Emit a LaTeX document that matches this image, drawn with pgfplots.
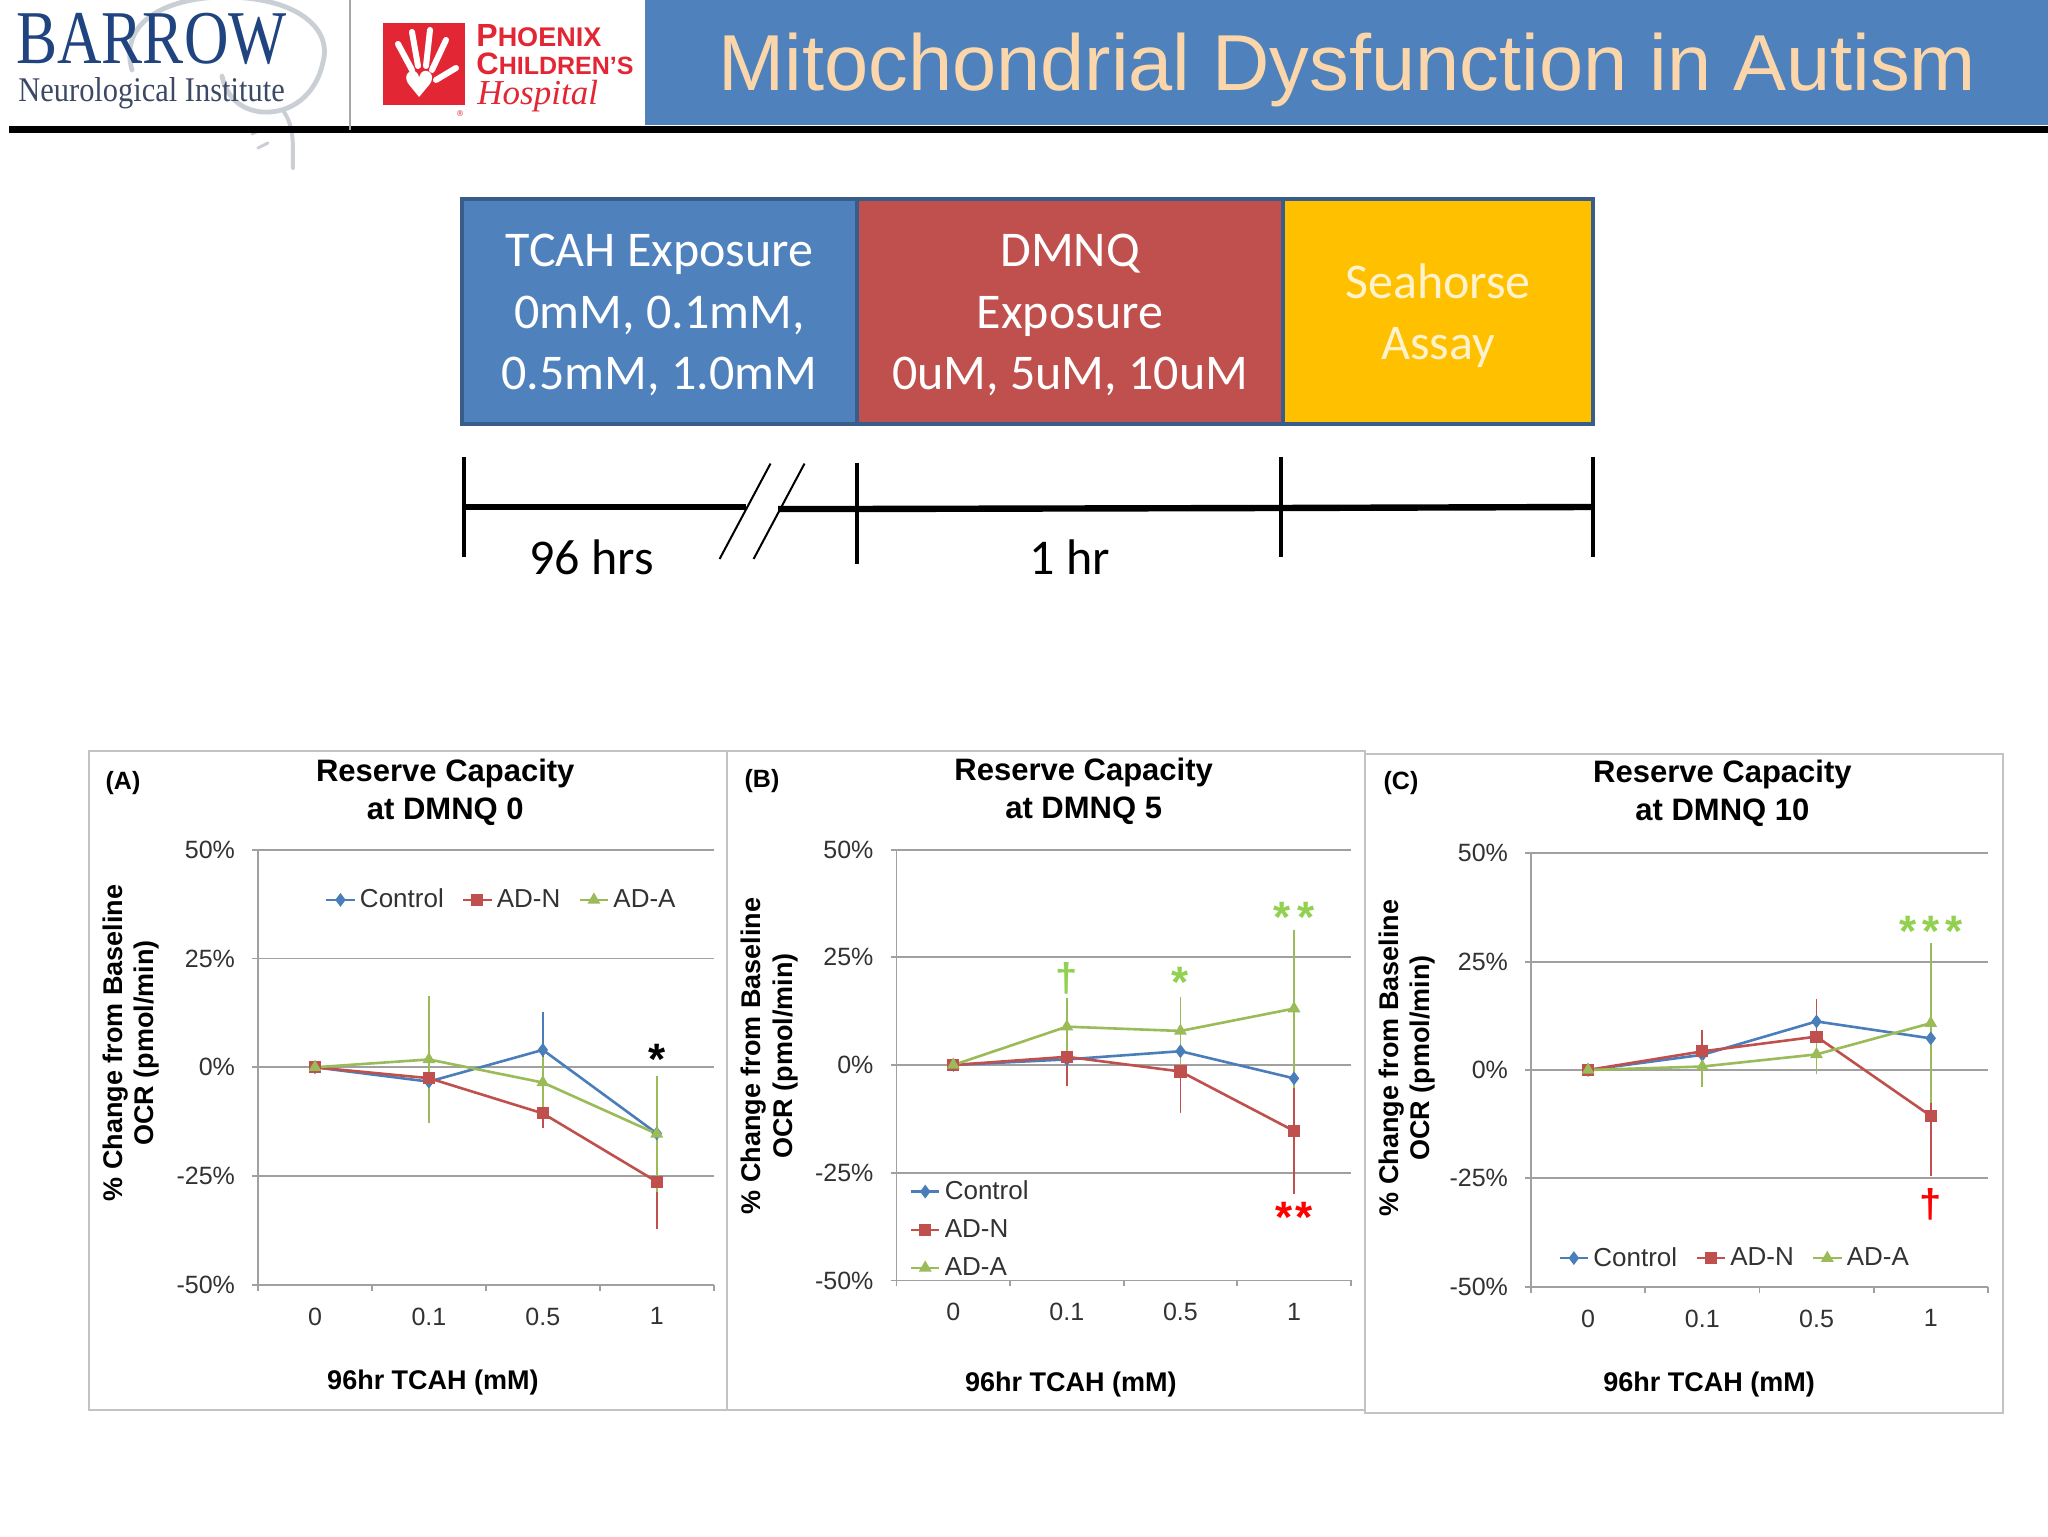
\documentclass[border=0pt]{standalone}
\usepackage{fontspec}
\setmainfont{Liberation Sans}
\newfontfamily\calibri{Carlito}
\newfontfamily\serifont{Liberation Serif}
\newfontfamily\dejavu{DejaVu Sans}
\usepackage{pgfplots}
\pgfplotsset{compat=1.18}
\definecolor{cBlue}{RGB}{74,126,187}
\definecolor{cRed}{RGB}{192,80,77}
\definecolor{cGreen}{RGB}{155,187,89}
\definecolor{bannerBlue}{RGB}{79,129,189}
\definecolor{boxRed}{RGB}{192,80,77}
\definecolor{boxYellow}{RGB}{255,192,0}
\definecolor{boxBorder}{RGB}{56,93,138}
\definecolor{titlePeach}{RGB}{250,214,170}
\definecolor{seaText}{RGB}{255,242,204}
\definecolor{gridGray}{RGB}{160,160,160}
\definecolor{frameGray}{RGB}{195,195,195}
\definecolor{tickGray}{RGB}{50,50,50}
\definecolor{annGreen}{RGB}{146,208,80}
\definecolor{annRed}{RGB}{255,0,0}
\definecolor{barrowBlue}{RGB}{32,68,128}
\definecolor{barrowGray}{RGB}{60,72,100}
\definecolor{pchRed}{RGB}{226,38,52}
\definecolor{swirl}{RGB}{202,207,214}

\pgfplotsset{
  panel/.style={
    scale only axis,
    xmin=-0.5, xmax=3.5, ymin=-50, ymax=50,
    axis x line=bottom, axis y line=left,
    axis line style={-, draw=gridGray, line width=0.9pt},
    xtick={-0.5,0.5,1.5,2.5,3.5}, xticklabels={,,,,},
    extra x ticks={0,1,2,3}, extra x tick labels={0,0.1,0.5,1},
    extra x tick style={major tick length=0pt},
    ytick={-50,-25,0,25,50},
    yticklabels={-50\%,-25\%,0\%,25\%,50\%},
    ymajorgrids, major grid style={draw=gridGray, line width=0.9pt},
    tick align=outside, major tick length=3pt,
    tick style={draw=gridGray, line width=0.9pt},
    tick label style={font=\fontsize{12.5}{15}\selectfont, text=tickGray},
    yticklabel style={xshift=-5pt},
    xticklabel style={yshift=-8pt},
    every axis title/.style={anchor=center, align=center, font=\bfseries\fontsize{15.5}{19}\selectfont},
    xlabel style={anchor=center, font=\bfseries\fontsize{13.5}{15.75}\selectfont},
    ylabel style={anchor=center, align=center, font=\bfseries\fontsize{13.5}{15.75}\selectfont},
    xlabel={96hr TCAH (mM)},
    ylabel={\% Change from Baseline\\OCR (pmol/min)},
    legend style={draw=none, fill=none, font=\fontsize{13}{15}\selectfont, text=tickGray},
    legend cell align=left,
    legend image code/.code={\draw[mark repeat=2,mark phase=2,##1] plot coordinates {(0cm,0cm) (0.25cm,0cm) (0.5cm,0cm)};},
  },
  ctrl/.style={color=cBlue, line width=1.3pt, mark=diamond*, mark size=2.4pt, mark options={solid},
    error bars/.cd, y dir=both, y explicit, error bar style={line width=0.9pt}, error mark options={line width=0.9pt, mark size=1.8pt}},
  adn/.style={color=cRed, line width=1.3pt, mark=square*, mark size=2.4pt, mark options={solid},
    error bars/.cd, y dir=both, y explicit, error bar style={line width=0.9pt}, error mark options={line width=0.9pt, mark size=1.8pt}},
  ada/.style={color=cGreen, line width=1.3pt, mark=triangle*, mark size=2.4pt, mark options={solid},
    error bars/.cd, y dir=both, y explicit, error bar style={line width=0.9pt}, error mark options={line width=0.9pt, mark size=1.8pt}},
}

\begin{document}
\begin{tikzpicture}
\path[use as bounding box, fill=white] (0pt,0pt) rectangle (1024pt,768pt);

\begin{scope}[x=0.5pt, y=-0.5pt, shift={(0pt,768pt)}]
  % header
  \fill[bannerBlue] (645,0) rectangle (2048,125);
  \draw[swirl, line width=2.4pt, line cap=round] (132,70) .. controls (118,20) and (170,-4) .. (230,-3) .. controls (300,-1) and (332,30) .. (323,62) .. controls (316,96) and (290,114) .. (262,112) .. controls (240,110) and (226,96) .. (222,76);
  \draw[swirl, line width=2pt, line cap=round] (284,112) .. controls (296,130) and (292,150) .. (293,168);
  \draw[swirl, line width=1.5pt, line cap=round] (252,134) -- (264,128);
  \draw[swirl, line width=1.5pt, line cap=round] (258,148) -- (268,143);
  \fill[black] (9,126) rectangle (2048,133);
  \draw[gray!70, line width=0.8pt] (350,0) -- (350,130);
  \node[anchor=base west, inner sep=0, text=barrowBlue] at (16,64) {\scalebox{0.81}[1]{\fontsize{38}{38}\serifont BARROW}};
  \node[anchor=base west, inner sep=0, text=barrowGray] at (18,102) {\scalebox{0.88}[1]{\fontsize{17.3}{17.5}\serifont Neurological Institute}};
  \fill[pchRed] (383,23) rectangle (465,105);
  \begin{scope}[white, line width=3pt, line cap=round]
    \draw (412,70) -- (398,44);
    \draw (418,66) -- (412,32);
    \draw (426,66) -- (430,30);
    \draw (432,70) -- (446,40);
    \draw (436,80) -- (456,68);
  \end{scope}
  \node[text=white, inner sep=0] at (420,84) {\fontsize{18}{18}\dejavu ♥};
  \node[text=pchRed, inner sep=0] at (460,114) {\fontsize{4}{4}\dejavu ®};
  \node[anchor=base west, inner sep=0, text=pchRed] at (476,47) {\bfseries\fontsize{16}{16}\selectfont P\fontsize{13.5}{13.5}\selectfont HOENIX};
  \node[anchor=base west, inner sep=0, text=pchRed] at (476,75) {\bfseries\fontsize{15.5}{15.5}\selectfont C\fontsize{12.5}{12.5}\selectfont HILDREN'S};
  \node[anchor=base west, inner sep=0, text=pchRed] at (477,105) {\fontsize{17.5}{17.5}\serifont\itshape Hospital};
  \node[anchor=base west, inner sep=0, text=titlePeach] at (718,91) {\fontsize{39.7}{40}\selectfont Mitochondrial Dysfunction in Autism};

  % process boxes
  \filldraw[fill=bannerBlue, draw=boxBorder, line width=2pt] (462,199) rectangle (857,424);
  \filldraw[fill=boxRed, draw=boxBorder, line width=2pt] (857,199) rectangle (1283,424);
  \filldraw[fill=boxYellow, draw=boxBorder, line width=2pt] (1283,199) rectangle (1593,424);
  \begin{scope}[every node/.style={anchor=base, inner sep=0, font=\calibri\fontsize{25}{30}\selectfont}]
    \node[text=white] at (659.5,267) {TCAH Exposure};
    \node[text=white] at (659.5,328.4) {0mM, 0.1mM,};
    \node[text=white] at (659.5,389.7) {0.5mM, 1.0mM};
    \node[text=white] at (1070,267) {DMNQ};
    \node[text=white] at (1070,328.4) {Exposure};
    \node[text=white] at (1070,389.7) {0uM, 5uM, 10uM};
    \node[text=seaText] at (1438,298.5) {Seahorse};
    \node[text=seaText] at (1438,360) {Assay};
    \node[text=black] at (591.6,575) {96 hrs};
    \node[text=black] at (1069.6,575) {1 hr};
  \end{scope}

  % timeline
  \draw[black, line width=3.2pt] (464,507) -- (746,507);
  \draw[black, line width=3.2pt] (778,509) -- (857,509) -- (1281,508) -- (1593,507);
  \draw[black, line width=2pt] (464,457) -- (464,557);
  \draw[black, line width=2pt] (857,463) -- (857,564);
  \draw[black, line width=2pt] (1281,457) -- (1281,557);
  \draw[black, line width=2pt] (1593,457) -- (1593,557);
  \draw[black, line width=1pt] (719.6,559) -- (770.5,463.6);
  \draw[black, line width=1pt] (753.6,559) -- (804.5,463.6);

  % chart frames and panel letters
  \draw[frameGray, line width=1pt] (89,751) rectangle (727,1410);
  \draw[frameGray, line width=1pt] (727,751) rectangle (1365,1410);
  \draw[frameGray, line width=1pt] (1365,754) rectangle (2003,1413);
  \node[inner sep=0, font=\bfseries\fontsize{12.5}{13}\selectfont] at (123,783) {(A)};
  \node[inner sep=0, font=\bfseries\fontsize{12.5}{13}\selectfont] at (762,781) {(B)};
  \node[inner sep=0, font=\bfseries\fontsize{12.5}{13}\selectfont] at (1401,783) {(C)};
\end{scope}

% ---------- Panel A ----------
\begin{axis}[panel, at={(129pt,125.65pt)}, anchor=south west, width=227.85pt, height=217.4pt,
  title={Reserve Capacity\\at DMNQ 0},
  title style={at={(axis description cs:0.411,1.133)}},
  xlabel style={at={(axis description cs:0.384,-0.225)}},
  ylabel style={at={(axis description cs:-0.279,0.556)}},
  legend columns=3,
  legend style={at={(axis description cs:0.536,0.885)}, anchor=center, /tikz/every even column/.append style={column sep=7pt}},
]
\addplot[ctrl] coordinates {(0,0) +- (0,0) (1,-3.3) +- (0,1.5) (2,4.0) +- (0,7.8) (3,-15.2) +- (0,7)};
\addlegendentry{Control}
\addplot[adn] coordinates {(0,0) +- (0,0) (1,-2.5) +- (0,1.5) (2,-10.6) +- (0,2.5) (3,-26.3) +- (0,10)};
\addlegendentry{AD-N}
\addplot[ada] coordinates {(0,0) +- (0,0) (1,1.8) +- (0,13.7) (2,-3.5) +- (0,5) (3,-15.3) +- (0,12.5)};
\addlegendentry{AD-A}
\node[anchor=base, inner sep=0, font=\bfseries\fontsize{22}{22}\selectfont, text=black, yshift=-12.5pt] at (axis cs:3,4.2) {*};
\end{axis}

% ---------- Panel B ----------
\begin{axis}[panel, at={(448.25pt,127.8pt)}, anchor=south west, width=227.15pt, height=215.4pt,
  title={Reserve Capacity\\at DMNQ 5},
  title style={at={(axis description cs:0.412,1.135)}},
  xlabel style={at={(axis description cs:0.384,-0.242)}},
  ylabel style={at={(axis description cs:-0.280,0.521)}},
  legend style={at={(axis description cs:0.015,0.251)}, anchor=north west, row sep=4.5pt},
]
\addplot[ctrl] coordinates {(0,0) +- (0,0) (1,1.3) +- (0,4.3) (2,3.2) +- (0,3) (3,-3.1) +- (0,5)};
\addlegendentry{Control}
\addplot[adn] coordinates {(0,0) +- (0,0) (1,1.9) +- (0,6) (2,-1.5) +- (0,8.8) (3,-15.3) +- (0,13.8)};
\addlegendentry{AD-N}
\addplot[ada] coordinates {(0,0) +- (0,0) (1,8.9) +- (0,5.8) (2,7.9) +- (0,7) (3,13.1) +- (0,17.5)};
\addlegendentry{AD-A}
\node[anchor=center, inner sep=0, font=\bfseries\fontsize{20}{20}\selectfont, text=annGreen] at (axis cs:1,20) {†};
\node[anchor=base, inner sep=0, font=\bfseries\fontsize{22}{22}\selectfont, text=annGreen, yshift=-12.5pt] at (axis cs:2,21.5) {*};
\node[anchor=base, inner sep=0, font=\bfseries\fontsize{22}{22}\selectfont, text=annGreen, yshift=-12.5pt] at (axis cs:3,36.5) {*\hspace{3pt}*};
\node[anchor=base, inner sep=0, font=\bfseries\fontsize{22}{22}\selectfont, text=annRed, yshift=-12.5pt] at (axis cs:3,-33) {*\hspace{1pt}*};
\end{axis}

% ---------- Panel C ----------
\begin{axis}[panel, at={(765.5pt,124.65pt)}, anchor=south west, width=228.4pt, height=216.7pt,
  title={Reserve Capacity\\at DMNQ 10},
  title style={at={(axis description cs:0.419,1.138)}},
  xlabel style={at={(axis description cs:0.39,-0.226)}},
  ylabel style={at={(axis description cs:-0.271,0.528)}},
  legend columns=3,
  legend style={at={(axis description cs:0.448,0.066)}, anchor=center, /tikz/every even column/.append style={column sep=7pt}},
]
\addplot[ctrl] coordinates {(0,0) +- (0,0) (1,3.5) +- (0,2) (2,11.2) +- (0,3) (3,7.3) +- (0,3)};
\addlegendentry{Control}
\addplot[adn] coordinates {(0,0) +- (0,0) (1,4.3) +- (0,4.2) (2,7.7) +- (0,7.9) (3,-10.6) +- (0,13)};
\addlegendentry{AD-N}
\addplot[ada] coordinates {(0,0) +- (0,0) (1,0.8) +- (0,3.9) (2,3.6) +- (0,3.6) (3,10.8) +- (0,17.6)};
\addlegendentry{AD-A}
\node[anchor=base, inner sep=0, font=\bfseries\fontsize{22}{22}\selectfont, text=annGreen, yshift=-12.5pt] at (axis cs:3,34.3) {*\hspace{3pt}*\hspace{3pt}*};
\node[anchor=center, inner sep=0, font=\bfseries\fontsize{20}{20}\selectfont, text=annRed] at (axis cs:3,-31) {†};
\end{axis}
\end{tikzpicture}
\end{document}
